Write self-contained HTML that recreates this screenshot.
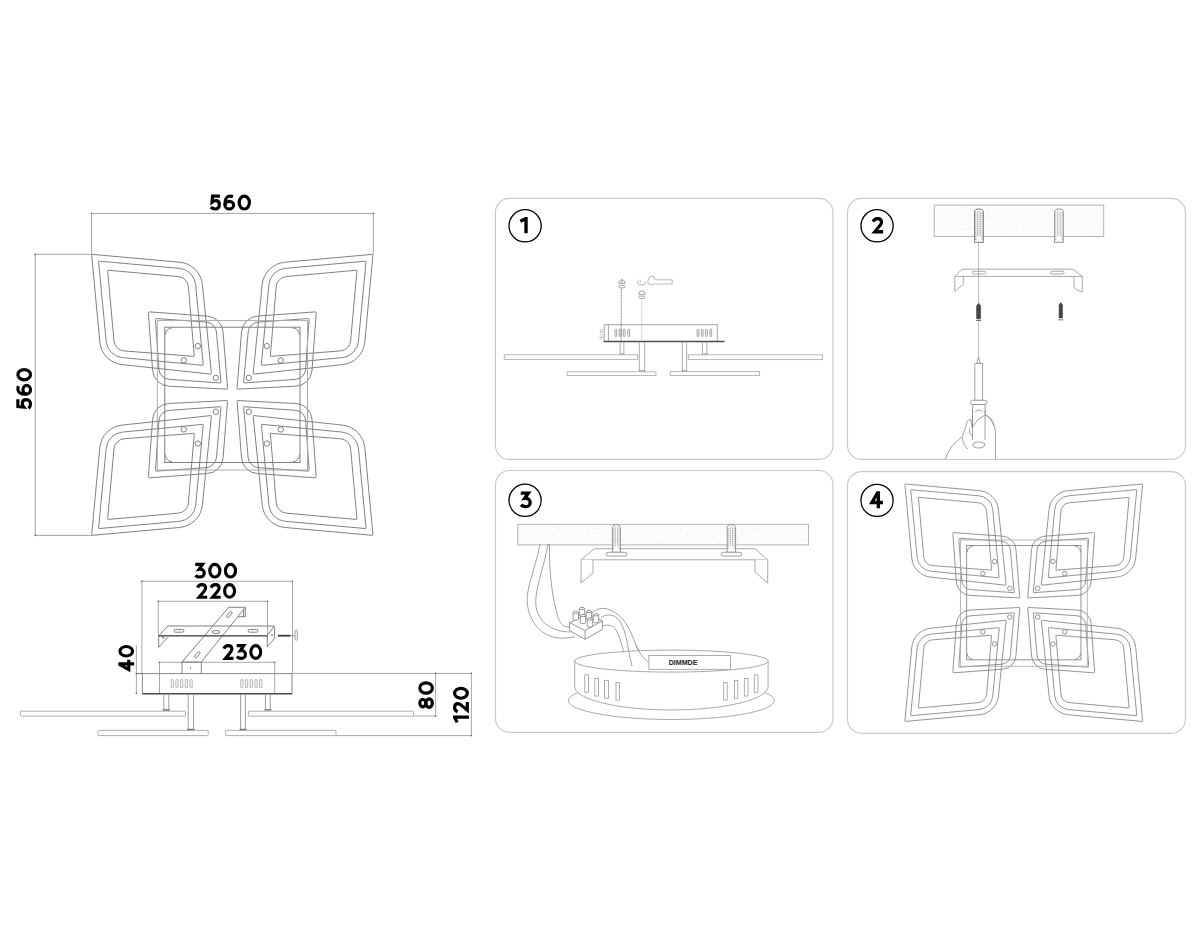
<!DOCTYPE html>
<html><head><meta charset="utf-8"><style>
html,body{margin:0;padding:0;background:#fff;}
svg{display:block;font-family:"Liberation Sans",sans-serif;}
</style></head><body>
<svg width="1200" height="933" viewBox="0 0 1200 933">
<rect width="1200" height="933" fill="#fff"/>
<rect x="495.4" y="198.4" width="337.6" height="261.0" rx="14" ry="14" fill="none" stroke="#c9c9c9" stroke-width="1.15"/>
<rect x="847.5" y="198.4" width="337.9000000000001" height="261.0" rx="14" ry="14" fill="none" stroke="#c9c9c9" stroke-width="1.15"/>
<rect x="495.5" y="470.5" width="337.5" height="261.79999999999995" rx="14" ry="14" fill="none" stroke="#c9c9c9" stroke-width="1.15"/>
<rect x="847.5" y="471.6" width="337.9000000000001" height="261.69999999999993" rx="14" ry="14" fill="none" stroke="#c9c9c9" stroke-width="1.15"/>
<circle cx="525.1" cy="225.8" r="16.1" fill="none" stroke="#000" stroke-width="1.3"/>
<circle cx="877.05" cy="225.8" r="16.1" fill="none" stroke="#000" stroke-width="1.3"/>
<circle cx="525.1" cy="500.3" r="16.1" fill="none" stroke="#000" stroke-width="1.3"/>
<circle cx="877.05" cy="500.4" r="16.1" fill="none" stroke="#000" stroke-width="1.3"/>
<g transform="translate(520,217)" fill="none" stroke="#000" stroke-width="20" stroke-linejoin="miter" stroke-miterlimit="4"><g transform="translate(0.00,0) scale(0.1674,0.1630)"><path d="M2,26 L36,9 M36,0 V100"/></g></g>
<g transform="translate(871.6,216.9)" fill="none" stroke="#000" stroke-width="20" stroke-linejoin="miter" stroke-miterlimit="4"><g transform="translate(0.00,0) scale(0.1597,0.1650)"><path d="M10,29 C15,16 26,10 38,10 C53,10 62,19 62,32 C62,42 56,49 48,57 L20,90 H72"/></g></g>
<g transform="translate(519.8,491.4)" fill="none" stroke="#000" stroke-width="20" stroke-linejoin="miter" stroke-miterlimit="4"><g transform="translate(0.00,0) scale(0.1644,0.1690)"><path d="M6,10 H52 L30,41 C50,38 63,50 63,65 C63,81 51,90 36,90 C24,90 14,86 7,79"/></g></g>
<g transform="translate(868.6,491.3)" fill="none" stroke="#000" stroke-width="20" stroke-linejoin="miter" stroke-miterlimit="4"><g transform="translate(0.00,0) scale(0.1682,0.1690)"><path d="M58,0 V100 M56,4 L20,66 H85"/></g></g>
<g transform="translate(210,194.6)" fill="none" stroke="#000" stroke-width="20" stroke-linejoin="miter" stroke-miterlimit="4"><g transform="translate(0.00,0) scale(0.1595,0.1600)"><path d="M62,10 H16 L13,47 C22,40 30,38 37,38 C51,38 59,49 59,64 C59,80 48,90 34,90 C22,90 12,85 5,78"/></g><g transform="translate(13.40,0) scale(0.1595,0.1600)"><path d="M60,13 C53,10 46,10 40,10 C21,10 10,30 10,55 V66"/><ellipse cx="37" cy="66" rx="27" ry="24"/></g><g transform="translate(27.60,0) scale(0.1595,0.1600)"><ellipse cx="42" cy="50" rx="32" ry="40"/></g></g>
<g transform="translate(16.3,409.1) rotate(-90)" fill="none" stroke="#000" stroke-width="20" stroke-linejoin="miter" stroke-miterlimit="4"><g transform="translate(0.00,0) scale(0.1599,0.1580)"><path d="M62,10 H16 L13,47 C22,40 30,38 37,38 C51,38 59,49 59,64 C59,80 48,90 34,90 C22,90 12,85 5,78"/></g><g transform="translate(13.43,0) scale(0.1599,0.1580)"><path d="M60,13 C53,10 46,10 40,10 C21,10 10,30 10,55 V66"/><ellipse cx="37" cy="66" rx="27" ry="24"/></g><g transform="translate(27.67,0) scale(0.1599,0.1580)"><ellipse cx="42" cy="50" rx="32" ry="40"/></g></g>
<g transform="translate(194.3,562.8)" fill="none" stroke="#000" stroke-width="20" stroke-linejoin="miter" stroke-miterlimit="4"><g transform="translate(0.00,0) scale(0.1579,0.1580)"><path d="M6,10 H52 L30,41 C50,38 63,50 63,65 C63,81 51,90 36,90 C24,90 14,86 7,79"/></g><g transform="translate(13.90,0) scale(0.1579,0.1580)"><ellipse cx="42" cy="50" rx="32" ry="40"/></g><g transform="translate(29.53,0) scale(0.1579,0.1580)"><ellipse cx="42" cy="50" rx="32" ry="40"/></g></g>
<g transform="translate(196,583.1)" fill="none" stroke="#000" stroke-width="20" stroke-linejoin="miter" stroke-miterlimit="4"><g transform="translate(0.00,0) scale(0.1554,0.1570)"><path d="M10,29 C15,16 26,10 38,10 C53,10 62,19 62,32 C62,42 56,49 48,57 L20,90 H72"/></g><g transform="translate(13.52,0) scale(0.1554,0.1570)"><path d="M10,29 C15,16 26,10 38,10 C53,10 62,19 62,32 C62,42 56,49 48,57 L20,90 H72"/></g><g transform="translate(27.04,0) scale(0.1554,0.1570)"><ellipse cx="42" cy="50" rx="32" ry="40"/></g></g>
<g transform="translate(222.4,644)" fill="none" stroke="#000" stroke-width="20" stroke-linejoin="miter" stroke-miterlimit="4"><g transform="translate(0.00,0) scale(0.1537,0.1600)"><path d="M10,29 C15,16 26,10 38,10 C53,10 62,19 62,32 C62,42 56,49 48,57 L20,90 H72"/></g><g transform="translate(13.37,0) scale(0.1537,0.1600)"><path d="M6,10 H52 L30,41 C50,38 63,50 63,65 C63,81 51,90 36,90 C24,90 14,86 7,79"/></g><g transform="translate(26.89,0) scale(0.1537,0.1600)"><ellipse cx="42" cy="50" rx="32" ry="40"/></g></g>
<g transform="translate(118.4,672.6) rotate(-90)" fill="none" stroke="#000" stroke-width="20" stroke-linejoin="miter" stroke-miterlimit="4"><g transform="translate(0.00,0) scale(0.1505,0.1570)"><path d="M58,0 V100 M56,4 L20,66 H85"/></g><g transform="translate(15.05,0) scale(0.1505,0.1570)"><ellipse cx="42" cy="50" rx="32" ry="40"/></g></g>
<g transform="translate(418.25,708.9) rotate(-90)" fill="none" stroke="#000" stroke-width="20" stroke-linejoin="miter" stroke-miterlimit="4"><g transform="translate(0.00,0) scale(0.1620,0.1565)"><ellipse cx="36" cy="29" rx="23" ry="19"/><ellipse cx="36" cy="69.5" rx="26" ry="20.5"/></g><g transform="translate(14.09,0) scale(0.1620,0.1565)"><ellipse cx="42" cy="50" rx="32" ry="40"/></g></g>
<g transform="translate(453,722.7) rotate(-90)" fill="none" stroke="#000" stroke-width="20" stroke-linejoin="miter" stroke-miterlimit="4"><g transform="translate(0.00,0) scale(0.1547,0.1590)"><path d="M2,26 L36,9 M36,0 V100"/></g><g transform="translate(9.44,0) scale(0.1547,0.1590)"><path d="M10,29 C15,16 26,10 38,10 C53,10 62,19 62,32 C62,42 56,49 48,57 L20,90 H72"/></g><g transform="translate(22.90,0) scale(0.1547,0.1590)"><ellipse cx="42" cy="50" rx="32" ry="40"/></g></g>
<g fill="none" stroke="#7a7a7a" stroke-width="0.95">
<path d="M91.67,255.02 A0.6,0.6 0 0 1 92.32,254.36 L179.76,262.25 A25,25 0 0 1 202.39,284.62 L211.43,373.46 A0.6,0.6 0 0 1 210.76,374.12 L122.02,364.58 A25,25 0 0 1 99.80,342.05 Z"/>
<path d="M98.57,261.82 A0.6,0.6 0 0 1 99.22,261.16 L179.39,268.36 A18,18 0 0 1 195.70,284.60 L203.23,364.68 A0.6,0.6 0 0 1 202.58,365.33 L122.38,357.62 A18,18 0 0 1 106.19,341.42 Z"/>
<path d="M107.66,270.92 A0.6,0.6 0 0 1 108.32,270.26 L178.41,276.57 A11,11 0 0 1 188.38,286.60 L194.24,355.70 A0.6,0.6 0 0 1 193.60,356.35 L124.07,350.92 A11,11 0 0 1 113.97,340.94 Z"/>
<path d="M148.40,313.19 A1.2,1.2 0 0 1 149.69,311.90 L207.35,316.13 A17,17 0 0 1 223.05,331.75 L227.55,388.52 A0.6,0.6 0 0 1 226.92,389.16 L168.68,386.17 A17,17 0 0 1 152.60,370.44 Z"/>
<path d="M155.50,319.88 A1.2,1.2 0 0 1 156.78,318.60 L206.25,322.05 A11,11 0 0 1 216.44,332.04 L220.94,382.30 A0.6,0.6 0 0 1 220.30,382.95 L169.14,379.37 A11,11 0 0 1 158.93,369.16 Z"/>
<circle cx="197.8" cy="346.1" r="2.7"/>
<circle cx="183.8" cy="360.3" r="2.7"/>
<circle cx="215.8" cy="377.9" r="2.7"/>
<g transform="translate(464.6,0) scale(-1,1)"><path d="M91.67,255.02 A0.6,0.6 0 0 1 92.32,254.36 L179.76,262.25 A25,25 0 0 1 202.39,284.62 L211.43,373.46 A0.6,0.6 0 0 1 210.76,374.12 L122.02,364.58 A25,25 0 0 1 99.80,342.05 Z"/>
<path d="M98.57,261.82 A0.6,0.6 0 0 1 99.22,261.16 L179.39,268.36 A18,18 0 0 1 195.70,284.60 L203.23,364.68 A0.6,0.6 0 0 1 202.58,365.33 L122.38,357.62 A18,18 0 0 1 106.19,341.42 Z"/>
<path d="M107.66,270.92 A0.6,0.6 0 0 1 108.32,270.26 L178.41,276.57 A11,11 0 0 1 188.38,286.60 L194.24,355.70 A0.6,0.6 0 0 1 193.60,356.35 L124.07,350.92 A11,11 0 0 1 113.97,340.94 Z"/>
<path d="M148.40,313.19 A1.2,1.2 0 0 1 149.69,311.90 L207.35,316.13 A17,17 0 0 1 223.05,331.75 L227.55,388.52 A0.6,0.6 0 0 1 226.92,389.16 L168.68,386.17 A17,17 0 0 1 152.60,370.44 Z"/>
<path d="M155.50,319.88 A1.2,1.2 0 0 1 156.78,318.60 L206.25,322.05 A11,11 0 0 1 216.44,332.04 L220.94,382.30 A0.6,0.6 0 0 1 220.30,382.95 L169.14,379.37 A11,11 0 0 1 158.93,369.16 Z"/>
<circle cx="197.8" cy="346.1" r="2.7"/>
<circle cx="183.8" cy="360.3" r="2.7"/>
<circle cx="215.8" cy="377.9" r="2.7"/></g>
<g transform="translate(0,789.7) scale(1,-1)"><path d="M91.67,255.02 A0.6,0.6 0 0 1 92.32,254.36 L179.76,262.25 A25,25 0 0 1 202.39,284.62 L211.43,373.46 A0.6,0.6 0 0 1 210.76,374.12 L122.02,364.58 A25,25 0 0 1 99.80,342.05 Z"/>
<path d="M98.57,261.82 A0.6,0.6 0 0 1 99.22,261.16 L179.39,268.36 A18,18 0 0 1 195.70,284.60 L203.23,364.68 A0.6,0.6 0 0 1 202.58,365.33 L122.38,357.62 A18,18 0 0 1 106.19,341.42 Z"/>
<path d="M107.66,270.92 A0.6,0.6 0 0 1 108.32,270.26 L178.41,276.57 A11,11 0 0 1 188.38,286.60 L194.24,355.70 A0.6,0.6 0 0 1 193.60,356.35 L124.07,350.92 A11,11 0 0 1 113.97,340.94 Z"/>
<path d="M148.40,313.19 A1.2,1.2 0 0 1 149.69,311.90 L207.35,316.13 A17,17 0 0 1 223.05,331.75 L227.55,388.52 A0.6,0.6 0 0 1 226.92,389.16 L168.68,386.17 A17,17 0 0 1 152.60,370.44 Z"/>
<path d="M155.50,319.88 A1.2,1.2 0 0 1 156.78,318.60 L206.25,322.05 A11,11 0 0 1 216.44,332.04 L220.94,382.30 A0.6,0.6 0 0 1 220.30,382.95 L169.14,379.37 A11,11 0 0 1 158.93,369.16 Z"/>
<circle cx="197.8" cy="346.1" r="2.7"/>
<circle cx="183.8" cy="360.3" r="2.7"/>
<circle cx="215.8" cy="377.9" r="2.7"/></g>
<g transform="translate(464.6,789.7) scale(-1,-1)"><path d="M91.67,255.02 A0.6,0.6 0 0 1 92.32,254.36 L179.76,262.25 A25,25 0 0 1 202.39,284.62 L211.43,373.46 A0.6,0.6 0 0 1 210.76,374.12 L122.02,364.58 A25,25 0 0 1 99.80,342.05 Z"/>
<path d="M98.57,261.82 A0.6,0.6 0 0 1 99.22,261.16 L179.39,268.36 A18,18 0 0 1 195.70,284.60 L203.23,364.68 A0.6,0.6 0 0 1 202.58,365.33 L122.38,357.62 A18,18 0 0 1 106.19,341.42 Z"/>
<path d="M107.66,270.92 A0.6,0.6 0 0 1 108.32,270.26 L178.41,276.57 A11,11 0 0 1 188.38,286.60 L194.24,355.70 A0.6,0.6 0 0 1 193.60,356.35 L124.07,350.92 A11,11 0 0 1 113.97,340.94 Z"/>
<path d="M148.40,313.19 A1.2,1.2 0 0 1 149.69,311.90 L207.35,316.13 A17,17 0 0 1 223.05,331.75 L227.55,388.52 A0.6,0.6 0 0 1 226.92,389.16 L168.68,386.17 A17,17 0 0 1 152.60,370.44 Z"/>
<path d="M155.50,319.88 A1.2,1.2 0 0 1 156.78,318.60 L206.25,322.05 A11,11 0 0 1 216.44,332.04 L220.94,382.30 A0.6,0.6 0 0 1 220.30,382.95 L169.14,379.37 A11,11 0 0 1 158.93,369.16 Z"/>
<circle cx="197.8" cy="346.1" r="2.7"/>
<circle cx="183.8" cy="360.3" r="2.7"/>
<circle cx="215.8" cy="377.9" r="2.7"/></g>
<rect x="157.3" y="320.6" width="150.2" height="149.4" stroke="#a8a8a8"/>
<rect x="164.8" y="327.2" width="135.2" height="135.3"/>
<path d="M165.4,334.8 A7,7 0 0 1 172.4,327.8 M292.4,327.8 A7,7 0 0 1 299.4,334.8 M299.4,454.9 A7,7 0 0 1 292.4,461.9 M172.4,461.9 A7,7 0 0 1 165.4,454.9"/>
</g>
<g transform="translate(1023.75,602.7) scale(0.845) translate(-232.3,-394.85)"><g fill="none" stroke="#7a7a7a" stroke-width="0.95">
<path d="M91.67,255.02 A0.6,0.6 0 0 1 92.32,254.36 L179.76,262.25 A25,25 0 0 1 202.39,284.62 L211.43,373.46 A0.6,0.6 0 0 1 210.76,374.12 L122.02,364.58 A25,25 0 0 1 99.80,342.05 Z"/>
<path d="M98.57,261.82 A0.6,0.6 0 0 1 99.22,261.16 L179.39,268.36 A18,18 0 0 1 195.70,284.60 L203.23,364.68 A0.6,0.6 0 0 1 202.58,365.33 L122.38,357.62 A18,18 0 0 1 106.19,341.42 Z"/>
<path d="M107.66,270.92 A0.6,0.6 0 0 1 108.32,270.26 L178.41,276.57 A11,11 0 0 1 188.38,286.60 L194.24,355.70 A0.6,0.6 0 0 1 193.60,356.35 L124.07,350.92 A11,11 0 0 1 113.97,340.94 Z"/>
<path d="M148.40,313.19 A1.2,1.2 0 0 1 149.69,311.90 L207.35,316.13 A17,17 0 0 1 223.05,331.75 L227.55,388.52 A0.6,0.6 0 0 1 226.92,389.16 L168.68,386.17 A17,17 0 0 1 152.60,370.44 Z"/>
<path d="M155.50,319.88 A1.2,1.2 0 0 1 156.78,318.60 L206.25,322.05 A11,11 0 0 1 216.44,332.04 L220.94,382.30 A0.6,0.6 0 0 1 220.30,382.95 L169.14,379.37 A11,11 0 0 1 158.93,369.16 Z"/>
<circle cx="197.8" cy="346.1" r="2.7"/>
<circle cx="183.8" cy="360.3" r="2.7"/>
<circle cx="215.8" cy="377.9" r="2.7"/>
<g transform="translate(464.6,0) scale(-1,1)"><path d="M91.67,255.02 A0.6,0.6 0 0 1 92.32,254.36 L179.76,262.25 A25,25 0 0 1 202.39,284.62 L211.43,373.46 A0.6,0.6 0 0 1 210.76,374.12 L122.02,364.58 A25,25 0 0 1 99.80,342.05 Z"/>
<path d="M98.57,261.82 A0.6,0.6 0 0 1 99.22,261.16 L179.39,268.36 A18,18 0 0 1 195.70,284.60 L203.23,364.68 A0.6,0.6 0 0 1 202.58,365.33 L122.38,357.62 A18,18 0 0 1 106.19,341.42 Z"/>
<path d="M107.66,270.92 A0.6,0.6 0 0 1 108.32,270.26 L178.41,276.57 A11,11 0 0 1 188.38,286.60 L194.24,355.70 A0.6,0.6 0 0 1 193.60,356.35 L124.07,350.92 A11,11 0 0 1 113.97,340.94 Z"/>
<path d="M148.40,313.19 A1.2,1.2 0 0 1 149.69,311.90 L207.35,316.13 A17,17 0 0 1 223.05,331.75 L227.55,388.52 A0.6,0.6 0 0 1 226.92,389.16 L168.68,386.17 A17,17 0 0 1 152.60,370.44 Z"/>
<path d="M155.50,319.88 A1.2,1.2 0 0 1 156.78,318.60 L206.25,322.05 A11,11 0 0 1 216.44,332.04 L220.94,382.30 A0.6,0.6 0 0 1 220.30,382.95 L169.14,379.37 A11,11 0 0 1 158.93,369.16 Z"/>
<circle cx="197.8" cy="346.1" r="2.7"/>
<circle cx="183.8" cy="360.3" r="2.7"/>
<circle cx="215.8" cy="377.9" r="2.7"/></g>
<g transform="translate(0,789.7) scale(1,-1)"><path d="M91.67,255.02 A0.6,0.6 0 0 1 92.32,254.36 L179.76,262.25 A25,25 0 0 1 202.39,284.62 L211.43,373.46 A0.6,0.6 0 0 1 210.76,374.12 L122.02,364.58 A25,25 0 0 1 99.80,342.05 Z"/>
<path d="M98.57,261.82 A0.6,0.6 0 0 1 99.22,261.16 L179.39,268.36 A18,18 0 0 1 195.70,284.60 L203.23,364.68 A0.6,0.6 0 0 1 202.58,365.33 L122.38,357.62 A18,18 0 0 1 106.19,341.42 Z"/>
<path d="M107.66,270.92 A0.6,0.6 0 0 1 108.32,270.26 L178.41,276.57 A11,11 0 0 1 188.38,286.60 L194.24,355.70 A0.6,0.6 0 0 1 193.60,356.35 L124.07,350.92 A11,11 0 0 1 113.97,340.94 Z"/>
<path d="M148.40,313.19 A1.2,1.2 0 0 1 149.69,311.90 L207.35,316.13 A17,17 0 0 1 223.05,331.75 L227.55,388.52 A0.6,0.6 0 0 1 226.92,389.16 L168.68,386.17 A17,17 0 0 1 152.60,370.44 Z"/>
<path d="M155.50,319.88 A1.2,1.2 0 0 1 156.78,318.60 L206.25,322.05 A11,11 0 0 1 216.44,332.04 L220.94,382.30 A0.6,0.6 0 0 1 220.30,382.95 L169.14,379.37 A11,11 0 0 1 158.93,369.16 Z"/>
<circle cx="197.8" cy="346.1" r="2.7"/>
<circle cx="183.8" cy="360.3" r="2.7"/>
<circle cx="215.8" cy="377.9" r="2.7"/></g>
<g transform="translate(464.6,789.7) scale(-1,-1)"><path d="M91.67,255.02 A0.6,0.6 0 0 1 92.32,254.36 L179.76,262.25 A25,25 0 0 1 202.39,284.62 L211.43,373.46 A0.6,0.6 0 0 1 210.76,374.12 L122.02,364.58 A25,25 0 0 1 99.80,342.05 Z"/>
<path d="M98.57,261.82 A0.6,0.6 0 0 1 99.22,261.16 L179.39,268.36 A18,18 0 0 1 195.70,284.60 L203.23,364.68 A0.6,0.6 0 0 1 202.58,365.33 L122.38,357.62 A18,18 0 0 1 106.19,341.42 Z"/>
<path d="M107.66,270.92 A0.6,0.6 0 0 1 108.32,270.26 L178.41,276.57 A11,11 0 0 1 188.38,286.60 L194.24,355.70 A0.6,0.6 0 0 1 193.60,356.35 L124.07,350.92 A11,11 0 0 1 113.97,340.94 Z"/>
<path d="M148.40,313.19 A1.2,1.2 0 0 1 149.69,311.90 L207.35,316.13 A17,17 0 0 1 223.05,331.75 L227.55,388.52 A0.6,0.6 0 0 1 226.92,389.16 L168.68,386.17 A17,17 0 0 1 152.60,370.44 Z"/>
<path d="M155.50,319.88 A1.2,1.2 0 0 1 156.78,318.60 L206.25,322.05 A11,11 0 0 1 216.44,332.04 L220.94,382.30 A0.6,0.6 0 0 1 220.30,382.95 L169.14,379.37 A11,11 0 0 1 158.93,369.16 Z"/>
<circle cx="197.8" cy="346.1" r="2.7"/>
<circle cx="183.8" cy="360.3" r="2.7"/>
<circle cx="215.8" cy="377.9" r="2.7"/></g>
<rect x="157.3" y="320.6" width="150.2" height="149.4" stroke="#a8a8a8"/>
<rect x="164.8" y="327.2" width="135.2" height="135.3"/>
<path d="M165.4,334.8 A7,7 0 0 1 172.4,327.8 M292.4,327.8 A7,7 0 0 1 299.4,334.8 M299.4,454.9 A7,7 0 0 1 292.4,461.9 M172.4,461.9 A7,7 0 0 1 165.4,454.9"/>
</g></g>
<g fill="none" stroke="#9a9a9a" stroke-width="0.9">
<path d="M91.6,213.4 H373.4 M91.6,213.4 V254 M373.4,213.4 V254"/>
<path d="M35.2,254.3 V535.4 M35.2,254.3 H91 M35.2,535.4 H92"/>
</g>
<g fill="#666"><rect x="90.89999999999999" y="212.70000000000002" width="1.4" height="1.4"/><rect x="372.7" y="212.70000000000002" width="1.4" height="1.4"/><rect x="34.5" y="253.60000000000002" width="1.4" height="1.4"/><rect x="34.5" y="534.6999999999999" width="1.4" height="1.4"/></g>
<g fill="none" stroke="#9a9a9a" stroke-width="0.85">
<path d="M141.7,581.3 H292.5 M141.9,581.3 V673.6 M292.5,581.3 V673.4"/>
<path d="M158.3,601.3 H267.5 M158.3,601.3 V636 M267.5,601.3 V636"/>
<path d="M159.5,662.3 H274.7 M159.5,662.3 V693.6 M274.7,662.3 V693.6"/>
<path d="M136.4,645.5 V693.6 M136.4,673.6 H142.4"/>
<path d="M292,673.4 H471.4 M435.6,673.4 V716 M413.5,716 H435.6"/>
<path d="M471.4,673.4 V735.6 M336,735.6 H471.4"/>
</g>
<g fill="#666">
<rect x="141.20000000000002" y="580.5999999999999" width="1.4" height="1.4"/>
<rect x="291.8" y="580.5999999999999" width="1.4" height="1.4"/>
<rect x="157.60000000000002" y="600.5999999999999" width="1.4" height="1.4"/>
<rect x="266.8" y="600.5999999999999" width="1.4" height="1.4"/>
<rect x="158.8" y="661.5999999999999" width="1.4" height="1.4"/>
<rect x="274.0" y="661.5999999999999" width="1.4" height="1.4"/>
<rect x="135.70000000000002" y="672.9" width="1.4" height="1.4"/>
<rect x="135.70000000000002" y="692.6999999999999" width="1.4" height="1.4"/>
<rect x="434.90000000000003" y="672.6999999999999" width="1.4" height="1.4"/>
<rect x="434.90000000000003" y="715.3" width="1.4" height="1.4"/>
<rect x="470.7" y="672.6999999999999" width="1.4" height="1.4"/>
<rect x="470.7" y="734.9" width="1.4" height="1.4"/>
</g>
<g fill="none" stroke="#7a7a7a" stroke-width="0.9">
<path d="M142.4,673.6 V693.6 M292,673.4 V693.6 M136.4,673.6 H292" />
</g>
<path d="M142.4,693.7 H292" stroke="#4a4a4a" stroke-width="1.6" fill="none"/>
<g fill="none" stroke="#a0a0a0" stroke-width="0.75">
<rect x="171.2" y="679.6" width="2.2" height="8" rx="0.4"/>
<rect x="175.9" y="679.6" width="2.2" height="8" rx="0.4"/>
<rect x="180.6" y="679.6" width="2.2" height="8" rx="0.4"/>
<rect x="185.3" y="679.6" width="2.2" height="8" rx="0.4"/>
<rect x="190.0" y="679.6" width="2.2" height="8" rx="0.4"/>
<rect x="240.8" y="679.6" width="2.2" height="8" rx="0.4"/>
<rect x="245.5" y="679.6" width="2.2" height="8" rx="0.4"/>
<rect x="250.2" y="679.6" width="2.2" height="8" rx="0.4"/>
<rect x="254.9" y="679.6" width="2.2" height="8" rx="0.4"/>
<rect x="259.6" y="679.6" width="2.2" height="8" rx="0.4"/>
</g>
<g fill="none" stroke="#8c8c8c" stroke-width="0.85">
<path d="M163.8,694.2 V710 M168.8,694.2 V710"/>
<path d="M188.2,694.2 V729.8 M193.6,694.2 V729.8"/>
<path d="M240.6,694.2 V729.8 M245.4,694.2 V729.8"/>
<path d="M265.4,694.2 V710 M270.2,694.2 V710"/>
</g>
<g fill="none" stroke="#a6a6a6" stroke-width="0.9">
<rect x="20.4" y="711.2" width="165.0" height="5.0" rx="0.6"/>
<rect x="248.4" y="711.2" width="165.1" height="5.0" rx="0.6"/>
<rect x="98" y="730.4" width="110.19999999999999" height="5.2000000000000455" rx="0.6"/>
<rect x="225.6" y="730.4" width="110.4" height="5.2000000000000455" rx="0.6"/>
</g>
<g fill="#777">
<rect x="162.6" y="709.2" width="7.400000000000006" height="1.4"/>
<rect x="187" y="728.8" width="7.599999999999994" height="1.4"/>
<rect x="239.6" y="728.8" width="6.800000000000011" height="1.4"/>
<rect x="264.4" y="709.2" width="7.0" height="1.4"/>
</g>
<g fill="none" stroke="#6a6a6a" stroke-width="0.85" stroke-linejoin="round">
<path d="M158.7,635.7 L168,626 H274.2 L267.3,635.7 Z"/>
<path d="M158.7,635.7 V647.3 L167.5,637.5"/>
<path d="M267.3,635.7 V646.7 L274.6,638.5 V626.5"/>
<path d="M182,662 L228.7,607.3 H245.3 L201.3,662 M243.6,609.3 V616.7 M245.3,607.3 V616.7 L238,616.7"/>
<path d="M182,662 V673.4 M201.3,662 V673.4 M182,662 H201.3"/>
<path d="M175.5,629.4 H182.5 A1.4,1.4 0 0 1 182.5,632.2 H175.5 A1.4,1.4 0 0 1 175.5,629.4 Z"/>
<path d="M249.5,629.4 H256.5 A1.4,1.4 0 0 1 256.5,632.2 H249.5 A1.4,1.4 0 0 1 249.5,629.4 Z"/>
<ellipse cx="216" cy="632" rx="4" ry="1.5"/>
<rect x="-3.6" y="-1.25" width="7.2" height="2.5" rx="1.25" transform="translate(229.3,614.6) rotate(130.5)"/>
<rect x="-3.6" y="-1.25" width="7.2" height="2.5" rx="1.25" transform="translate(197.2,654.8) rotate(130.5)"/>
<circle cx="163.3" cy="637.5" r="0.9"/><circle cx="272" cy="635.3" r="0.6"/><circle cx="190.7" cy="668" r="0.4"/>
</g>
<path d="M158.7,635.9 H267.3" stroke="#555" stroke-width="1.1"/>
<path d="M278,635.7 H290.5" stroke="#3a3a3a" stroke-width="1.8"/>
<path d="M290.5,635.7 H295" stroke="#777" stroke-width="0.8"/>
<ellipse cx="296.2" cy="635.2" rx="1.3" ry="5.4" fill="none" stroke="#888" stroke-width="0.8"/>
<g fill="none" stroke="#8a8a8a" stroke-width="0.8">
<path d="M604.2,324.7 H717.3 V341.4 M608.4,324.7 V341.4"/>
<rect x="615.0" y="329.3" width="1.7" height="7.2" rx="0.8"/>
<rect x="619.2" y="329.3" width="1.7" height="7.2" rx="0.8"/>
<rect x="623.3" y="329.3" width="1.7" height="7.2" rx="0.8"/>
<rect x="627.9" y="329.3" width="1.7" height="7.2" rx="0.8"/>
<rect x="697.1" y="329.3" width="1.7" height="7.2" rx="0.8"/>
<rect x="701.4" y="329.3" width="1.7" height="7.2" rx="0.8"/>
<rect x="705.6" y="329.3" width="1.7" height="7.2" rx="0.8"/>
<rect x="710.0" y="329.3" width="1.7" height="7.2" rx="0.8"/>
<path d="M604.2,324.7 V341.4"/>
</g>
<path d="M603.7,341.5 H724.5" stroke="#4d4d4d" stroke-width="1.3" fill="none"/>
<text transform="translate(603.2,340) rotate(-90)" font-size="6" fill="#aaa">4cm</text>
<g fill="none" stroke="#999" stroke-width="0.8">
<path d="M620.1,341.8 V354.6 M623.9,341.8 V354.6"/>
<path d="M639.3,341.8 V371.4 M644.6,341.8 V371.4"/>
<path d="M682.3,341.8 V371.4 M686.6,341.8 V371.4"/>
<path d="M702.4,341.8 V354.6 M706.8,341.8 V354.6"/>
</g>
<g fill="#888">
<rect x="619.5" y="353.6" width="5.0" height="1.2"/>
<rect x="638.8" y="370.4" width="6.400000000000091" height="1.2"/>
<rect x="681.8" y="370.4" width="5.400000000000091" height="1.2"/>
<rect x="701.9" y="353.6" width="5.5" height="1.2"/>
</g>
<g fill="none" stroke="#b0b0b0" stroke-width="0.9">
<rect x="504.2" y="354.8" width="133.40000000000003" height="4.599999999999966"/>
<rect x="688.3" y="354.8" width="134.20000000000005" height="4.800000000000011"/>
<rect x="567.1" y="371.8" width="88.79999999999995" height="3.6999999999999886"/>
<rect x="670.3" y="371.6" width="89.30000000000007" height="3.8999999999999773"/>
</g>
<path d="M621.25,288.5 V341" stroke="#666" stroke-width="0.7" stroke-dasharray="2.2,0.8" fill="none"/>
<path d="M641.8,299.5 V341" stroke="#aaa" stroke-width="0.7" stroke-dasharray="2,1" fill="none"/>
<g fill="none" stroke="#8a8a8a" stroke-width="0.75">
<path d="M618.6,283.4 Q619,280 621.9,279.6 Q624.8,280 625.2,283.4 Z M621.9,279.6 V283.4"/>
<ellipse cx="621.9" cy="286.6" rx="3.4" ry="1.3"/>
<path d="M638.6,294.4 Q639,291 641.9,290.6 Q644.8,291 645.2,294.4 Z"/>
<ellipse cx="641.9" cy="297.3" rx="3.4" ry="1.3"/>
</g>
<g fill="none" stroke="#999" stroke-width="0.7">
<path d="M637.5,281 Q637,284.5 640,284.8 H644 Q646,284.5 645.5,281.8 M640.2,279.5 V282"/>
<path d="M648.5,279.2 Q649,276 652,276 Q655,276.2 654.5,279 L657.5,279.8 H672.2 V284 H655.5 Q650,285.5 648.5,283.8 Q647,281.5 648.5,279.2 Z"/>
</g>
<rect x="934.25" y="205.1" width="169.45" height="31.4" fill="#fcfcfc" stroke="#b5b5b5" stroke-width="1"/>
<path d="M975.6,222.0 h2.1 M1036.2,224.2 h1.2 M938.4,230.0 h1.8 M975.0,234.4 h2.4 M1074.6,220.2 h2.9 M961.2,224.5 h3.6 M1022.8,227.4 h3.0 M946.8,227.9 h2.8 M986.1,207.9 h3.6 M1014.5,226.8 h3.6 M1054.4,232.3 h2.2 M1068.8,219.3 h3.8 M1081.7,209.8 h1.4 M972.2,233.6 h2.3 M1039.9,215.3 h2.5 M1000.1,216.7 h2.8 M1032.9,231.9 h3.0 M1089.9,230.6 h4.0 M1047.3,211.6 h3.6 M1095.8,231.9 h2.7 M1054.4,212.9 h3.5 M1031.1,214.9 h1.2 M1077.5,234.2 h1.3 M1068.7,218.3 h1.5 M984.9,228.2 h3.6 M943.6,223.9 h1.1 M1055.1,216.2 h3.6 M1098.5,220.9 h4.0 M987.5,209.2 h2.8 M941.4,212.5 h2.2 M1037.3,211.4 h1.1 M1079.8,215.7 h3.9 M1084.6,217.5 h2.4 M1022.3,224.7 h2.8 M1028.8,224.1 h3.8 M1020.1,218.9 h3.2 M975.6,215.3 h3.9 M1022.5,222.1 h1.0 M1004.9,223.0 h1.1 M1038.1,224.4 h1.2 M1040.0,219.9 h3.0 M994.6,226.5 h3.2 M939.9,208.8 h3.0 M1095.6,214.0 h2.4 M1034.3,215.9 h2.1 M988.0,217.2 h2.8 M986.0,217.4 h3.3 M940.7,222.7 h3.2 M987.5,213.2 h3.4 M975.7,212.2 h2.3 M1051.7,209.9 h2.0 M991.5,229.9 h2.3 M1077.8,211.7 h2.0 M1043.8,231.3 h2.4 M973.5,210.4 h2.6 M967.8,229.2 h3.5 M966.6,214.7 h3.4 M1042.5,229.2 h2.0 M957.7,215.1 h3.4 M981.1,216.6 h2.3 M1005.7,218.3 h3.8 M962.1,207.2 h3.8 M1081.8,234.1 h2.3 M1093.5,232.5 h1.7 M1059.6,230.0 h3.0 M1022.1,215.0 h2.0 M973.9,209.0 h2.8 M983.7,229.3 h1.1 M1085.8,226.1 h3.8 M1084.6,231.8 h2.7 M938.4,227.5 h1.5 M985.9,225.3 h2.6 M1004.7,232.8 h2.8 M992.7,214.0 h3.6 M1015.2,228.5 h2.1 M968.9,221.7 h3.5 M964.6,228.8 h3.8 M1069.6,229.7 h1.0 M1040.3,230.7 h1.1 M981.2,214.5 h2.6 M1006.2,220.1 h3.3 M936.5,208.6 h1.4 M956.9,209.0 h3.9 M1077.6,209.5 h2.5 M988.5,215.7 h2.1 M1043.3,223.2 h2.1 M967.9,216.1 h1.4 M1028.2,226.7 h2.1 M949.5,212.0 h2.1 M1036.3,228.5 h2.1" stroke="#ececec" stroke-width="0.6" fill="none"/>
<path d="M974.6,242.3 V212 Q974.6,209 978.95,209 Q983.3,209 983.3,212 V242.3 Z" fill="#fff" stroke="#555" stroke-width="0.8"/>
<path d="M975.1,213.0 h1.3 M981.5,213.0 h1.3 M975.1,215.2 h1.3 M981.5,215.2 h1.3 M975.1,217.4 h1.3 M981.5,217.4 h1.3 M975.1,219.6 h1.3 M981.5,219.6 h1.3 M975.1,221.8 h1.3 M981.5,221.8 h1.3 M975.1,224.0 h1.3 M981.5,224.0 h1.3 M975.1,226.2 h1.3 M981.5,226.2 h1.3 M975.1,228.4 h1.3 M981.5,228.4 h1.3 M975.1,230.6 h1.3 M981.5,230.6 h1.3 M975.1,232.8 h1.3 M981.5,232.8 h1.3 M975.1,235.0 h1.3 M981.5,235.0 h1.3 M975.1,237.2 h1.3 M981.5,237.2 h1.3 M975.1,239.4 h1.3 M981.5,239.4 h1.3" stroke="#555" stroke-width="0.6"/>
<path d="M977.75,211 V236.3 M980.1500000000001,211 V236.3" stroke="#555" stroke-width="0.5"/>
<path d="M1054.6,242.3 V212 Q1054.6,209 1058.9499999999998,209 Q1063.3,209 1063.3,212 V242.3 Z" fill="#fff" stroke="#777" stroke-width="0.8"/>
<path d="M1055.1,213.0 h1.3 M1061.5,213.0 h1.3 M1055.1,215.2 h1.3 M1061.5,215.2 h1.3 M1055.1,217.4 h1.3 M1061.5,217.4 h1.3 M1055.1,219.6 h1.3 M1061.5,219.6 h1.3 M1055.1,221.8 h1.3 M1061.5,221.8 h1.3 M1055.1,224.0 h1.3 M1061.5,224.0 h1.3 M1055.1,226.2 h1.3 M1061.5,226.2 h1.3 M1055.1,228.4 h1.3 M1061.5,228.4 h1.3 M1055.1,230.6 h1.3 M1061.5,230.6 h1.3 M1055.1,232.8 h1.3 M1061.5,232.8 h1.3 M1055.1,235.0 h1.3 M1061.5,235.0 h1.3 M1055.1,237.2 h1.3 M1061.5,237.2 h1.3 M1055.1,239.4 h1.3 M1061.5,239.4 h1.3" stroke="#777" stroke-width="0.6"/>
<path d="M1057.7499999999998,211 V236.3 M1060.1499999999999,211 V236.3" stroke="#777" stroke-width="0.5"/>
<path d="M978.6,242.5 V357" stroke="#8a8a8a" stroke-width="0.6" fill="none"/>
<g fill="none" stroke="#9a9a9a" stroke-width="0.85" stroke-linejoin="round">
<path d="M954.8,276.4 L962,269.2 H1072.8 L1082.3,276.4 Z"/>
<path d="M954.8,276.4 V291.4 L963.3,284.5 V276.4"/>
<path d="M1082.3,276.4 V292.2 L1076.5,290 Q1074,288 1074,285 V276.4"/>
<rect x="972.2" y="271.3" width="13.5" height="2.7" rx="1.3"/>
<rect x="1050.6" y="271.3" width="13.4" height="2.7" rx="1.3"/>
</g>
<path d="M978.6,303.3 L980.6,306 V318.8 H976.6 V306 Z" fill="#444" stroke="#333" stroke-width="0.5"/>
<path d="M976,320.5 H981.2" stroke="#777" stroke-width="1"/>
<path d="M1060.8,302.5 L1062.5,305 V318 H1059.1 V305 Z" fill="#444" stroke="#333" stroke-width="0.5"/>
<path d="M1058.4,319.8 H1063.2" stroke="#777" stroke-width="1"/>
<g fill="#fff" stroke="#8a8a8a" stroke-width="0.8" stroke-linejoin="round">
<path d="M976.8,363.4 L978.5,357.3 L980.3,363.4 Z"/>
<path d="M974.8,363.4 H982.6 V400.3 H974.8 Z"/>
<rect x="970.4" y="400.3" width="16.7" height="4.2" rx="2.1"/>
<path d="M972.8,404.5 Q971.5,425 973.5,446 H984.5 Q986.5,425 985,404.5 Z"/>
<path d="M945.3,459 Q950,445 962,437 Q965,430 967,422 Q969,418 971,420 L972,428 Q975,422 980,418 Q985,414 988,416 Q994,420 995.5,432 V459" />
<path d="M973,443 Q978,448 985,443 M970,428 Q968,434 973,436"/>
<path d="M972.5,410 V440 M985,410 V440 M975,412 Q979,408 983,412"/>
<ellipse cx="978.8" cy="445" rx="6" ry="3"/>
<path d="M962,437 Q964,447 968,449 M985.7,415 Q991,418 994,426"/>
</g>
<rect x="517.8" y="524.3" width="290.7" height="20.6" fill="#fcfcfc" stroke="#b5b5b5" stroke-width="1"/>
<path d="M612.6,528.8 h3.0 M540.6,535.2 h2.1 M536.4,534.7 h1.1 M644.1,527.5 h1.3 M641.5,540.0 h1.4 M583.8,536.7 h3.8 M685.3,532.9 h3.9 M533.2,540.6 h1.9 M561.2,528.3 h1.9 M753.8,529.3 h2.7 M703.0,532.5 h2.6 M537.8,527.3 h1.6 M714.9,533.4 h1.9 M687.7,533.8 h1.9 M747.5,537.9 h1.7 M684.5,535.0 h3.6 M728.9,531.1 h3.9 M553.6,533.2 h3.3 M563.4,534.4 h1.1 M711.4,539.0 h2.7 M770.8,531.5 h3.1 M690.2,535.9 h2.4 M760.6,542.0 h2.4 M710.2,527.3 h3.1 M705.3,542.8 h3.5 M601.4,532.7 h3.0 M526.3,534.0 h1.5 M553.4,527.3 h3.3 M556.9,530.4 h2.2 M769.6,527.6 h2.3 M677.3,541.0 h3.5 M767.5,530.9 h2.2 M622.7,541.0 h3.9 M563.1,529.2 h1.7 M586.7,534.4 h2.8 M595.1,526.4 h2.3 M625.7,535.7 h3.9 M717.8,534.9 h2.9 M713.7,527.2 h3.7 M743.4,540.8 h3.4 M632.3,532.9 h1.3 M701.7,527.3 h1.2 M579.7,529.0 h2.0 M534.9,526.3 h1.5 M548.9,532.3 h1.1 M770.5,536.5 h1.4 M592.1,532.1 h2.1 M555.0,540.4 h4.0 M653.4,534.3 h1.3 M549.1,532.0 h1.8 M757.4,529.0 h1.1 M792.4,535.1 h1.4 M675.5,526.7 h2.6 M800.3,540.6 h3.1 M594.7,532.4 h1.5 M741.1,535.1 h3.3 M614.3,530.0 h3.4 M802.2,540.5 h3.4 M754.4,538.6 h1.7 M668.2,532.2 h1.1 M527.8,530.9 h1.8 M718.3,542.2 h2.3 M788.4,542.7 h3.9 M624.3,530.0 h1.7 M576.2,529.7 h2.9 M777.9,540.3 h2.4 M707.0,539.6 h1.3 M709.2,541.4 h3.3 M734.9,534.2 h1.5 M746.0,531.8 h3.4 M798.4,532.9 h2.2 M791.2,538.3 h1.5 M556.2,528.8 h3.7 M751.0,528.7 h3.5 M800.9,537.2 h2.1 M677.1,528.5 h1.0 M798.2,537.1 h2.6 M787.5,533.5 h3.6 M756.7,529.8 h1.8 M603.8,530.3 h2.8 M594.2,533.3 h1.4 M780.7,532.2 h2.4 M687.0,541.3 h2.3 M782.9,534.6 h2.6 M669.9,526.6 h2.3 M572.3,526.4 h3.4 M569.2,534.2 h3.2 M679.3,531.7 h2.6 M679.0,539.3 h1.3 M680.4,530.4 h1.8 M741.2,534.7 h2.7 M737.7,541.4 h2.3 M695.4,534.7 h2.5 M718.4,533.8 h2.6 M656.9,541.9 h3.1 M771.1,541.9 h1.8 M680.2,542.0 h3.5 M559.1,528.3 h2.3 M540.6,530.3 h1.2 M711.7,539.3 h3.7 M564.1,538.2 h3.0 M560.8,541.0 h3.9 M582.8,542.1 h2.2 M659.5,542.7 h3.5 M566.1,533.5 h2.5 M617.0,529.5 h2.0 M726.8,526.6 h2.7 M646.1,526.6 h2.0 M698.7,534.8 h1.2 M802.2,539.4 h3.9 M549.8,530.7 h1.1 M743.1,530.8 h1.4 M640.9,541.4 h3.5 M593.9,528.8 h3.8 M683.4,537.9 h1.3 M536.3,537.7 h2.3 M540.6,541.9 h2.9 M749.6,527.7 h3.6 M538.9,540.6 h2.4 M617.0,535.5 h3.8 M596.6,528.4 h2.6 M588.2,528.1 h1.5 M534.2,529.6 h1.9 M607.2,538.9 h1.9 M663.2,529.3 h2.0 M525.0,530.5 h1.0 M730.0,535.4 h1.6 M655.9,541.8 h1.3 M754.6,533.5 h2.5 M759.1,532.8 h2.5 M717.0,542.6 h2.0 M758.4,538.0 h2.9 M635.8,532.1 h1.2 M557.0,527.5 h3.2 M593.1,529.0 h1.3 M761.0,540.8 h3.0 M600.6,530.3 h1.9 M651.5,528.9 h2.3 M595.3,542.3 h3.9 M676.6,530.4 h3.9 M608.5,532.2 h1.0 M629.2,534.2 h2.5 M577.4,534.7 h1.0 M595.5,527.8 h2.2 M531.7,526.7 h1.9 M586.5,536.0 h2.6 M735.0,537.2 h3.1 M771.8,532.8 h2.0 M802.1,528.8 h3.2 M704.2,527.0 h3.5" stroke="#ececec" stroke-width="0.6" fill="none"/>
<g fill="#fff" stroke="#9a9a9a" stroke-width="0.85" stroke-linejoin="round">
<path d="M581,559.8 L594.4,548.7 H755 L767.7,559.8 Z"/>
<path d="M581,559.8 V583 L593,573 V559.8"/>
<path d="M767.7,559.8 V583 L755,572 V559.8"/>
</g>
<path d="M612.4,552.3 V527.6 Q612.4,524.6 616.4,524.6 Q620.4,524.6 620.4,527.6 V552.3 Z" fill="#fff" stroke="#777" stroke-width="0.8"/>
<path d="M612.9,528.6 h1.3 M618.6,528.6 h1.3 M612.9,530.8 h1.3 M618.6,530.8 h1.3 M612.9,533.0 h1.3 M618.6,533.0 h1.3 M612.9,535.2 h1.3 M618.6,535.2 h1.3 M612.9,537.4 h1.3 M618.6,537.4 h1.3 M612.9,539.6 h1.3 M618.6,539.6 h1.3 M612.9,541.8 h1.3 M618.6,541.8 h1.3 M612.9,544.0 h1.3 M618.6,544.0 h1.3 M612.9,546.2 h1.3 M618.6,546.2 h1.3 M612.9,548.4 h1.3 M618.6,548.4 h1.3" stroke="#777" stroke-width="0.6"/>
<path d="M615.1999999999999,526.6 V546.3 M617.6,526.6 V546.3" stroke="#777" stroke-width="0.5"/>
<path d="M727.2,552.3 V527.6 Q727.2,524.6 731.4000000000001,524.6 Q735.6,524.6 735.6,527.6 V552.3 Z" fill="#fff" stroke="#777" stroke-width="0.8"/>
<path d="M727.7,528.6 h1.3 M733.8000000000001,528.6 h1.3 M727.7,530.8 h1.3 M733.8000000000001,530.8 h1.3 M727.7,533.0 h1.3 M733.8000000000001,533.0 h1.3 M727.7,535.2 h1.3 M733.8000000000001,535.2 h1.3 M727.7,537.4 h1.3 M733.8000000000001,537.4 h1.3 M727.7,539.6 h1.3 M733.8000000000001,539.6 h1.3 M727.7,541.8 h1.3 M733.8000000000001,541.8 h1.3 M727.7,544.0 h1.3 M733.8000000000001,544.0 h1.3 M727.7,546.2 h1.3 M733.8000000000001,546.2 h1.3 M727.7,548.4 h1.3 M733.8000000000001,548.4 h1.3" stroke="#777" stroke-width="0.6"/>
<path d="M730.2,526.6 V546.3 M732.6000000000001,526.6 V546.3" stroke="#777" stroke-width="0.5"/>
<rect x="606.3" y="552.3" width="20.8" height="3.8" rx="1.9" fill="#fff" stroke="#888" stroke-width="0.8"/>
<rect x="721" y="552.3" width="20.8" height="3.8" rx="1.9" fill="#fff" stroke="#888" stroke-width="0.8"/>
<g fill="none" stroke="#8a8a8a" stroke-width="0.8">
<path d="M540.1,544 C535,570 525,590 527.5,605 C530,625 545,640 566,638 L575,637"/>
<path d="M548.2,544 C543,570 534,592 536,606 C538,622 552,632 571,632"/>
<path d="M549.5,544 C549,565 551,590 556,610 C559,624 563,627 569,627"/>
<path d="M591.7,613.7 C596,608 604,607 610,610 C625,616 630,630 636,645 C640,655 645,660 652,662"/>
<path d="M601,617.5 C606,614 612,614 617,618 C624,624 627,640 629,652 C630,658 632,662 634,666"/>
<path d="M602,625.7 C608,624.5 613,625 616,630 C620,637 623,648 625,658 C626,663 627,666 628,668"/>
</g>
<g fill="#fff" stroke="#777" stroke-width="0.75" stroke-linejoin="round">
<path d="M569.5,622.5 L588.5,614.5 L602.4,621 V629.5 L585,639.3 L569.5,630.5 Z"/>
<path d="M585,630.5 V639.3 M569.5,622.5 L585,630.5 L602.4,621"/>
<path d="M579.3,608.5 V615.5 A2.7,1.1 0 0 0 584.7,615.5 V608.5"/><ellipse cx="582" cy="608.5" rx="2.7" ry="1.1"/>
<path d="M586.3,611.5 V618.5 A2.7,1.1 0 0 0 591.7,618.5 V611.5"/><ellipse cx="589" cy="611.5" rx="2.7" ry="1.1"/>
<path d="M593.3,614.8 V621.8 A2.7,1.1 0 0 0 598.7,621.8 V614.8"/><ellipse cx="596" cy="614.8" rx="2.7" ry="1.1"/>
<path d="M573.0999999999999,612.3 V619.3 A2.7,1.1 0 0 0 578.5,619.3 V612.3"/><ellipse cx="575.8" cy="612.3" rx="2.7" ry="1.1"/>
<path d="M580.3,615.6 V622.6 A2.7,1.1 0 0 0 585.7,622.6 V615.6"/><ellipse cx="583" cy="615.6" rx="2.7" ry="1.1"/>
<path d="M587.3,619 V626 A2.7,1.1 0 0 0 592.7,626 V619"/><ellipse cx="590" cy="619" rx="2.7" ry="1.1"/>
</g>
<g fill="#fff" stroke="#9a9a9a" stroke-width="0.85">
<ellipse cx="671.4" cy="700.5" rx="103" ry="19"/>
<path d="M574.7,661.1 V686.5 A96.7,23.5 0 0 0 768.1,686.5 V661.1"/>
<ellipse cx="671.4" cy="661.1" rx="96.7" ry="11"/>
</g>
<path d="M629,652 C630,658 631,662 632,666 M636,645 C640,655 645,660 649,662" stroke="#8a8a8a" stroke-width="0.8" fill="none"/>
<rect x="648.9" y="655.6" width="81.6" height="13.7" fill="#fff" stroke="#999" stroke-width="0.8"/>
<text x="668.7" y="664.8" font-size="7.6" font-weight="bold" fill="#222" textLength="28.8" lengthAdjust="spacingAndGlyphs">DIMMDE</text>
<g fill="none" stroke="#9a9a9a" stroke-width="0.8">
<rect x="584.8" y="674.8" width="3.6000000000000227" height="17.5"/>
<rect x="594.8" y="678.5" width="3.7000000000000455" height="17.5"/>
<rect x="604.5" y="680.3" width="4.100000000000023" height="18.0"/>
<rect x="616" y="682.5" width="3.6000000000000227" height="17.600000000000023"/>
<rect x="723.7" y="682.5" width="3.5" height="17.600000000000023"/>
<rect x="734.5" y="680.3" width="3.2999999999999545" height="18.0"/>
<rect x="744.3" y="678.5" width="3.7000000000000455" height="17.5"/>
<rect x="754.3" y="674.8" width="3.7000000000000455" height="17.5"/>
</g>
</svg></body></html>
